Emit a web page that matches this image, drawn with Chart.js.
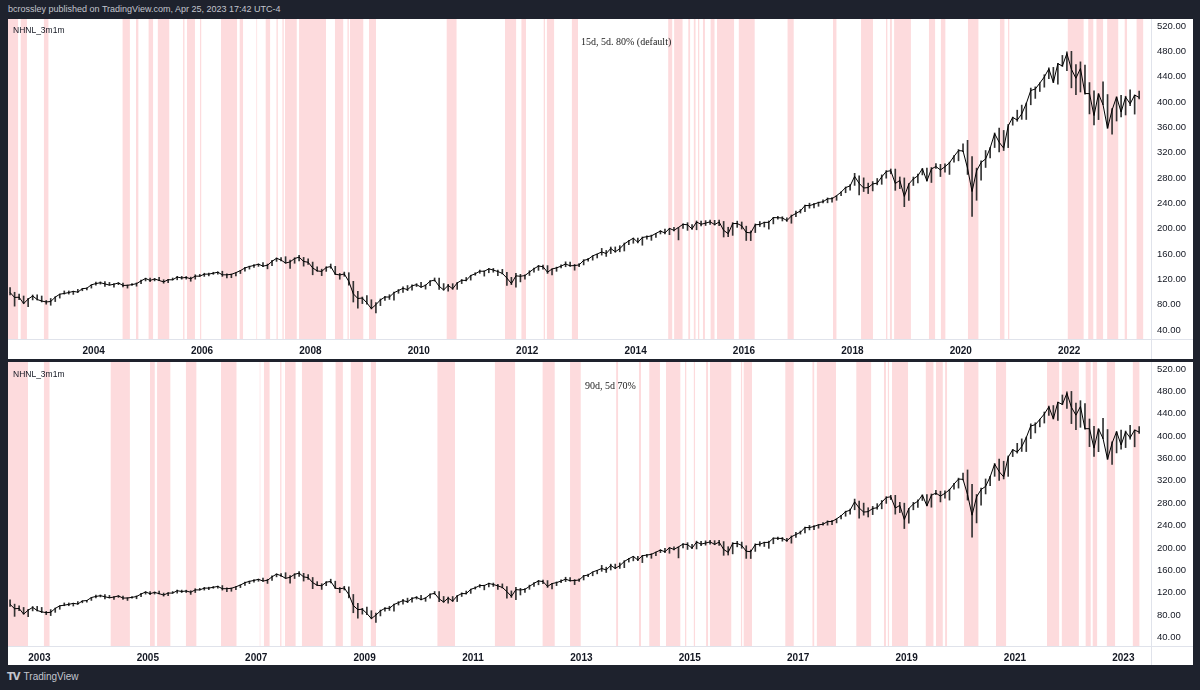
<!DOCTYPE html>
<html>
<head>
<meta charset="utf-8">
<script src="https://cdn.jsdelivr.net/npm/chart.js@4.4.0/dist/chart.umd.min.js"></script>
<style>
  body { margin: 0; width: 1200px; height: 690px; background: #1e222d; position: relative; overflow: hidden; font-family: "Liberation Sans", Arial, sans-serif; }
  #hdr { position: absolute; left: 8px; top: 4px; font-size: 9px; color: #c3c6ce; white-space: nowrap; }
  .pane { position: absolute; left: 8px; width: 1185px; background: #fff; }
  #p1 { top: 19px; height: 340px; }
  #p2 { top: 362px; height: 303px; }
  .pane canvas { position: absolute; left: 0; top: 0; }
  .leg { position: absolute; left: 5px; font-size: 8.5px; color: #131722; white-space: nowrap; }
  .note { position: absolute; font-family: "Liberation Serif", "Times New Roman", serif; font-size: 10px; color: #222; white-space: nowrap; }
  .vline { position: absolute; left: 1143px; top: 0; width: 1px; height: 100%; background: #e0e3eb; }
  .hline { position: absolute; left: 0; width: 100%; height: 1px; background: #e0e3eb; }
  #foot { position: absolute; left: 7px; top: 671px; font-size: 10px; color: #c3c6ce; white-space: nowrap; }
  #foot b { font-family: "DejaVu Sans", sans-serif; font-size: 10px; letter-spacing: -1px; margin-right: 4px; }
</style>
</head>
<body>
<div id="hdr">bcrossley published on TradingView.com, Apr 25, 2023 17:42 UTC-4</div>

<div class="pane" id="p1">
  <canvas id="c1" width="1185" height="340"></canvas>
  <div class="vline"></div>
  <div class="hline" style="top:320px"></div>
  <div class="leg" style="top:6px">NHNL_3m1m</div>
  <div class="note" style="left:573px; top:17px">15d, 5d. 80% (default)</div>
</div>

<div class="pane" id="p2">
  <canvas id="c2" width="1185" height="303"></canvas>
  <div class="vline"></div>
  <div class="hline" style="top:284px"></div>
  <div class="leg" style="top:7px">NHNL_3m1m</div>
  <div class="note" style="left:577px; top:18px">90d, 5d 70%</div>
</div>

<div id="foot"><b>TV</b>TradingView</div>

<script>
// monthly bars, first one is June 2002
const firstMonth = 2002 + 5 / 12;

const closes = [
  99.0, 91.2, 91.6, 81.5, 88.6, 93.6, 88.0,
  85.6, 84.1, 84.8, 91.7, 96.4, 97.5, 99.0, 100.8, 99.6, 105.1, 105.8, 111.2,
  113.1, 114.5, 112.6, 110.7, 112.1, 114.1, 110.2, 110.4, 111.5, 113.0, 117.4, 121.2,
  118.1, 120.4, 118.1, 115.7, 119.2, 119.1, 123.4, 122.0, 122.9, 120.7, 124.9, 124.8,
  128.0, 128.1, 129.5, 131.1, 127.0, 127.0, 127.7, 130.4, 133.6, 137.8, 140.1, 141.8,
  143.8, 140.7, 142.1, 148.2, 153.1, 150.3, 145.5, 147.4, 152.7, 154.9, 148.1, 146.8,
  137.9, 133.1, 132.3, 138.6, 140.0, 128.0, 126.7, 128.3, 116.6, 96.9, 89.6, 90.3,
  82.6, 73.5, 79.8, 87.3, 91.9, 91.9, 98.7, 102.1, 105.7, 103.6, 109.6, 111.5,
  107.4, 110.4, 116.9, 118.7, 108.9, 103.1, 110.2, 104.9, 114.1, 118.3, 118.1, 125.8,
  128.6, 132.7, 132.6, 136.4, 134.5, 132.1, 129.2, 121.9, 113.1, 125.3, 124.7, 125.8,
  131.2, 136.6, 140.8, 139.8, 131.0, 136.2, 137.9, 140.7, 144.1, 141.2, 141.6, 142.6,
  149.8, 151.5, 156.9, 159.8, 163.1, 160.6, 168.6, 163.3, 168.2, 175.7, 180.6, 184.8,
  178.3, 185.9, 187.2, 188.4, 192.4, 196.0, 193.1, 200.3, 197.2, 201.8, 206.8, 205.9,
  199.5, 210.4, 206.8, 208.6, 210.7, 206.3, 210.4, 197.2, 192.0, 207.9, 208.0, 204.4,
  194.0, 193.2, 206.0, 206.5, 209.7, 209.9, 217.4, 217.1, 216.8, 212.6, 219.9, 223.9,
  227.9, 236.4, 236.3, 238.4, 241.2, 242.3, 247.0, 247.2, 251.9, 257.5, 264.8, 267.4,
  282.4, 271.4, 264.1, 264.8, 270.5, 271.8, 281.6, 290.2, 291.4, 271.2, 276.0, 250.7,
  270.4, 278.4, 283.4, 294.6, 275.2, 294.2, 298.0, 292.6, 297.7, 303.8, 314.1, 323.1,
  322.6, 295.4, 258.5, 291.2, 304.4, 310.0, 327.1, 350.0, 336.3, 327.0, 362.2, 375.6,
  371.4, 381.1, 397.3, 418.1, 420.4, 429.8, 439.5, 452.3, 430.8, 460.5, 456.7, 476.6,
  451.6, 437.4, 453.0, 413.2, 413.2, 378.5, 413.0, 395.5, 358.6, 387.2, 408.0, 384.0,
  407.7, 397.0, 410.9, 407.1
];

const lows = [
  95.3, 77.5, 87.6, 81.5, 76.8, 87.3, 87.2,
  84.1, 80.6, 78.9, 84.7, 90.2, 96.5, 96.5, 96.0, 99.0, 101.8, 103.1, 106.0,
  110.5, 112.3, 108.8, 110.5, 107.6, 111.4, 107.9, 106.0, 110.2, 109.0, 112.8, 117.3,
  116.3, 117.4, 117.6, 113.7, 114.6, 118.8, 119.1, 120.1, 120.2, 116.8, 120.1, 124.5,
  124.5, 125.3, 127.7, 128.0, 124.5, 121.9, 122.4, 125.3, 129.0, 132.7, 136.0, 138.5,
  140.3, 139.9, 136.4, 141.6, 148.2, 148.9, 145.4, 137.1, 145.2, 148.9, 140.7, 143.5,
  127.0, 132.6, 125.7, 132.4, 137.3, 127.2, 120.0, 124.7, 110.6, 84.0, 74.1, 81.5,
  80.5, 73.1, 66.6, 78.3, 86.7, 88.1, 86.9, 97.8, 99.2, 102.0, 102.9, 108.5,
  107.1, 104.4, 110.0, 117.0, 104.0, 102.8, 101.1, 104.0, 104.0, 113.1, 117.3, 118.6,
  126.2, 129.4, 124.9, 130.2, 131.1, 125.8, 128.3, 110.1, 111.4, 107.5, 115.8, 120.2,
  125.9, 131.1, 134.0, 135.8, 129.2, 126.7, 132.5, 137.8, 139.7, 140.3, 134.3, 139.8,
  142.6, 148.5, 150.1, 153.6, 158.1, 156.0, 160.5, 162.7, 163.3, 164.6, 174.6, 176.8,
  177.2, 173.7, 183.4, 181.4, 186.0, 191.5, 191.6, 190.4, 196.4, 182.1, 200.1, 197.2,
  198.8, 198.1, 204.0, 204.9, 206.7, 205.6, 204.4, 186.7, 187.2, 189.3, 201.9, 199.3,
  181.2, 181.0, 193.7, 203.3, 202.5, 199.2, 207.4, 214.7, 212.0, 211.4, 208.4, 218.7,
  224.5, 226.7, 232.2, 232.8, 235.2, 240.5, 240.7, 241.7, 244.7, 252.0, 256.6, 260.5,
  268.2, 253.3, 258.5, 255.3, 259.5, 269.1, 269.9, 279.6, 286.5, 260.4, 263.1, 234.6,
  244.4, 268.1, 272.2, 284.8, 275.0, 272.8, 295.2, 282.2, 289.1, 285.5, 305.0, 307.0,
  321.4, 285.5, 219.1, 244.7, 276.6, 296.5, 311.5, 328.0, 320.9, 323.3, 327.9, 363.3,
  369.5, 372.5, 372.3, 395.5, 405.6, 416.5, 423.3, 436.8, 430.5, 427.9, 456.1, 449.5,
  422.3, 411.5, 415.7, 412.4, 381.1, 363.7, 372.1, 395.5, 358.4, 349.1, 369.9, 376.4,
  379.4, 394.3, 380.8, 404.9
];

const highs = [
  107.0, 99.4, 96.5, 93.5, 90.0, 95.1, 95.4,
  93.5, 86.4, 89.6, 92.4, 96.6, 101.5, 101.5, 101.1, 104.0, 105.4, 106.3, 111.2,
  115.5, 115.8, 116.3, 115.0, 113.0, 114.6, 114.0, 110.9, 113.1, 114.2, 118.8, 121.7,
  121.7, 121.2, 122.9, 119.2, 119.9, 121.9, 124.6, 124.5, 124.3, 123.3, 127.0, 127.6,
  129.5, 129.7, 131.0, 131.8, 132.6, 128.4, 128.2, 130.6, 134.0, 138.9, 140.7, 143.1,
  144.1, 146.1, 143.9, 149.8, 153.5, 154.0, 155.6, 150.3, 153.9, 157.6, 154.5, 152.3,
  147.1, 139.6, 135.9, 139.7, 144.0, 140.4, 129.2, 131.3, 130.3, 116.7, 100.7, 91.9,
  94.3, 87.6, 83.2, 88.8, 93.0, 95.6, 99.6, 103.9, 108.0, 110.1, 111.1, 113.0,
  115.0, 111.2, 118.0, 122.0, 121.9, 113.1, 112.0, 113.0, 115.0, 119.6, 122.8, 126.3,
  130.3, 134.5, 133.3, 137.0, 137.1, 134.6, 135.6, 130.7, 123.0, 129.3, 127.7, 127.0,
  133.4, 137.8, 142.0, 142.2, 141.5, 136.4, 139.1, 142.7, 147.5, 147.0, 143.4, 144.8,
  150.9, 153.0, 157.0, 159.8, 168.7, 165.5, 170.9, 171.0, 173.0, 177.2, 181.3, 184.9,
  185.0, 186.7, 188.4, 189.7, 192.4, 196.8, 199.2, 200.5, 201.9, 201.8, 207.5, 209.3,
  206.4, 212.0, 211.7, 212.6, 213.4, 213.0, 213.3, 211.3, 202.1, 209.4, 211.7, 210.4,
  203.8, 196.3, 207.3, 211.1, 210.3, 212.1, 217.8, 219.3, 218.7, 216.9, 221.4, 227.8,
  230.1, 237.1, 240.1, 239.8, 241.8, 245.4, 248.4, 249.1, 252.0, 258.2, 265.7, 269.5,
  287.3, 283.5, 280.1, 271.8, 274.2, 279.1, 284.8, 291.6, 294.1, 294.0, 281.5, 280.0,
  270.9, 281.4, 286.0, 295.0, 295.4, 296.4, 302.8, 301.4, 302.2, 305.0, 315.4, 324.8,
  333.8, 339.4, 313.6, 295.5, 306.8, 323.3, 328.0, 351.0, 358.8, 355.0, 364.4, 376.0,
  387.0, 395.0, 398.2, 421.9, 423.8, 430.2, 443.0, 453.7, 454.6, 460.9, 473.5, 479.0,
  479.9, 459.0, 463.3, 458.1, 430.6, 417.4, 413.0, 431.7, 411.7, 389.5, 408.0, 410.5,
  409.0, 419.0, 410.9, 417.0
];

const priceTicks = [40, 80, 120, 160, 200, 240, 280, 320, 360, 400, 440, 480, 520];
const yearsTop = [2004, 2006, 2008, 2010, 2012, 2014, 2016, 2018, 2020, 2022];
const yearsBottom = [2003, 2005, 2007, 2009, 2011, 2013, 2015, 2017, 2019, 2021, 2023];

// shaded signal periods, [from, to] in decimal years
const bandsTop = [
  [2002.42, 2002.61], [2002.65, 2002.77], [2003.08, 2003.17], [2004.53, 2004.67], [2004.78, 2004.83],
  [2005.01, 2005.10], [2005.18, 2005.40], [2005.65, 2005.68], [2005.72, 2005.87], [2005.96, 2005.99],
  [2006.35, 2006.65], [2006.69, 2006.76], [2007.00, 2007.02], [2007.17, 2007.26], [2007.37, 2007.40],
  [2007.48, 2007.51], [2007.53, 2007.75], [2007.79, 2008.29], [2008.45, 2008.61], [2008.68, 2008.71],
  [2008.73, 2008.98], [2009.08, 2009.21], [2010.51, 2010.70], [2011.59, 2011.80], [2011.89, 2011.98],
  [2012.30, 2012.33], [2012.36, 2012.50], [2012.82, 2012.94], [2014.60, 2014.68], [2014.71, 2014.87],
  [2014.97, 2015.01], [2015.07, 2015.11], [2015.15, 2015.18], [2015.24, 2015.28], [2015.38, 2015.46],
  [2015.50, 2015.82], [2015.90, 2016.20], [2016.80, 2016.92], [2017.64, 2017.71], [2018.16, 2018.38],
  [2018.62, 2018.65], [2018.69, 2018.73], [2018.77, 2019.08], [2019.41, 2019.53], [2019.63, 2019.72],
  [2020.13, 2020.33], [2020.72, 2020.81], [2020.87, 2020.90], [2021.97, 2022.27], [2022.35, 2022.45],
  [2022.50, 2022.63], [2022.70, 2022.91], [2023.02, 2023.07], [2023.24, 2023.37]
];

const bandsBottom = [
  [2002.42, 2002.79], [2003.08, 2003.19], [2004.31, 2004.67], [2005.04, 2005.13], [2005.17, 2005.42],
  [2005.70, 2005.90], [2006.35, 2006.64], [2007.06, 2007.08], [2007.14, 2007.25], [2007.44, 2007.47],
  [2007.49, 2007.50], [2007.53, 2007.73], [2007.84, 2008.23], [2008.46, 2008.60], [2008.74, 2008.97],
  [2009.11, 2009.21], [2010.34, 2010.67], [2011.40, 2011.78], [2012.28, 2012.51], [2012.79, 2012.99],
  [2013.64, 2013.68], [2014.06, 2014.10], [2014.25, 2014.45], [2014.56, 2014.83], [2014.91, 2014.94],
  [2015.07, 2015.10], [2015.30, 2015.34], [2015.37, 2015.77], [2015.94, 2015.97], [2015.99, 2016.15],
  [2016.76, 2016.92], [2017.26, 2017.30], [2017.34, 2017.70], [2018.07, 2018.35], [2018.58, 2018.62],
  [2018.65, 2018.68], [2018.73, 2019.03], [2019.35, 2019.50], [2019.54, 2019.67], [2019.71, 2019.75],
  [2020.06, 2020.33], [2020.65, 2020.84], [2021.59, 2021.82], [2021.86, 2022.18], [2022.30, 2022.40],
  [2022.43, 2022.52], [2022.69, 2022.85], [2023.17, 2023.30]
];

const X_MIN = 2002.42;
const X_MAX = 2023.51;
const BAND_COLOR = 'rgb(253, 219, 221)';
const TEXT = '#131722';

function monthX(i) {
  return firstMonth + (i + 0.5) / 12;
}

function buildChart(canvasId, bands, yearTicks, yMin, yMax, axisHeight) {
  const datasets = [];

  // pink background periods
  bands.forEach(b => {
    datasets.push({
      type: 'line',
      data: [{ x: b[0], y: yMax }, { x: b[1], y: yMax }],
      fill: 'start',
      backgroundColor: BAND_COLOR,
      borderWidth: 0,
      pointRadius: 0,
      order: 2
    });
  });

  // monthly high-low range
  datasets.push({
    type: 'bar',
    data: lows.map((lo, i) => ({ x: monthX(i), y: [lo, highs[i]] })),
    backgroundColor: '#333',
    barThickness: 1,
    grouped: false,
    order: 1
  });

  // close
  datasets.push({
    type: 'line',
    data: closes.map((c, i) => ({ x: monthX(i), y: c })),
    borderColor: '#000',
    borderWidth: 1,
    pointRadius: 0,
    tension: 0,
    fill: false,
    order: 0
  });

  new Chart(document.getElementById(canvasId), {
    type: 'line',
    data: { datasets },
    options: {
      responsive: false,
      animation: false,
      events: [],
      layout: { padding: 0 },
      plugins: { legend: { display: false }, tooltip: { enabled: false } },
      scales: {
        x: {
          type: 'linear',
          offset: false,
          min: X_MIN,
          max: X_MAX,
          grid: { display: false, drawTicks: false, offset: false },
          border: { display: false },
          afterBuildTicks: s => { s.ticks = yearTicks.map(v => ({ value: v })); },
          afterFit: s => { s.height = axisHeight; s.paddingLeft = 0; s.paddingRight = 0; },
          ticks: {
            autoSkip: false,
            maxRotation: 0,
            padding: 6,
            color: TEXT,
            font: { family: '"Liberation Sans", Arial, sans-serif', size: 10, weight: 'bold' },
            callback: v => String(v)
          }
        },
        y: {
          type: 'linear',
          position: 'right',
          min: yMin,
          max: yMax,
          grid: { display: false, drawTicks: false },
          border: { display: false },
          afterBuildTicks: s => { s.ticks = priceTicks.map(v => ({ value: v })); },
          afterFit: s => { s.width = 42; s.paddingTop = 0; s.paddingBottom = 0; },
          ticks: {
            padding: 6,
            color: TEXT,
            font: { family: '"Liberation Sans", Arial, sans-serif', size: 9.5 },
            callback: v => v.toFixed(2)
          }
        }
      }
    }
  });
}

buildChart('c1', bandsTop, yearsTop, 25.6, 531, 20);
buildChart('c2', bandsBottom, yearsBottom, 24.5, 532.5, 19);
</script>
</body>
</html>
